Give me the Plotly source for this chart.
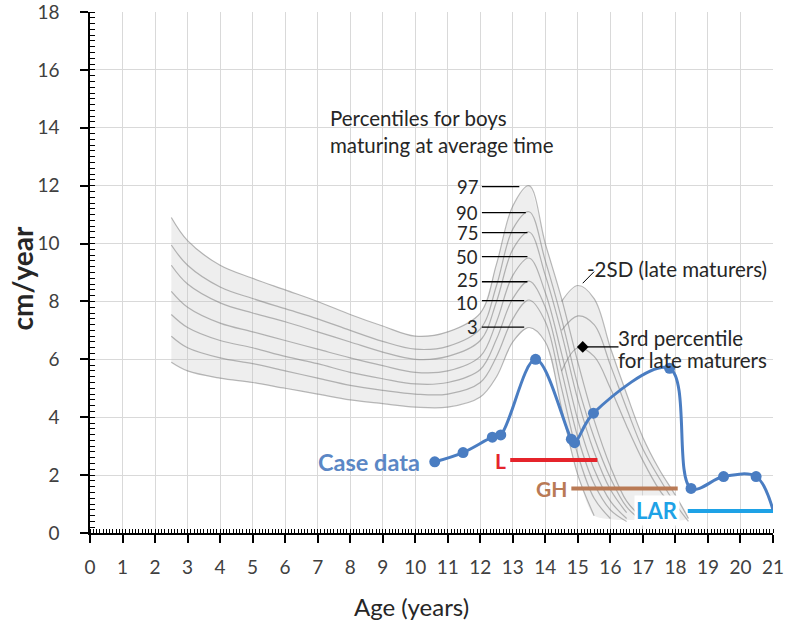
import plotly.graph_objects as go

# ---------------- data ----------------
# Case data (age in years, height velocity cm/year); last point has no marker
CASE_AGE = [10.6, 11.47, 12.37, 12.63, 13.7, 14.8, 14.9, 15.48, 17.82, 18.48, 19.48, 20.48, 21.0]
CASE_VEL = [2.46, 2.78, 3.31, 3.39, 6.0, 3.24, 3.12, 4.14, 5.69, 1.54, 1.95, 1.95, 0.8]
CASE_MARKED = [1, 1, 1, 1, 1, 1, 1, 1, 1, 1, 1, 1, 0]

# Treatment periods
TREAT_NAMES = ["L", "GH", "LAR"]
TREAT_START = [12.92, 14.8, 18.38]
TREAT_END = [15.6, 18.07, 21.0]
TREAT_LEVEL = [2.52, 1.54, 0.76]

# Reference percentile curves (boys maturing at average time)
AGES = [2.5, 3, 4, 5, 6, 7, 8, 9, 10, 11, 12, 12.5, 13, 13.5, 14, 14.5, 15, 15.5, 16, 16.5, 17]
P3 = [5.9, 5.6, 5.35, 5.2, 5.0, 4.8, 4.6, 4.47, 4.35, 4.35, 4.7, 5.4, 6.6, 7.1, 6.6, 4.3, 2.0, 0.6, None, None, None]
P10 = [6.8, 6.4, 6.05, 5.85, 5.6, 5.35, 5.1, 4.93, 4.8, 4.8, 5.2, 6.1, 7.4, 8.05, 7.3, 5.0, 2.7, 1.2, 0.5, None, None]
P25 = [7.55, 7.1, 6.65, 6.4, 6.1, 5.85, 5.55, 5.33, 5.15, 5.2, 5.65, 6.7, 8.1, 8.7, 7.8, 5.6, 3.3, 1.7, 0.8, 0.4, None]
P50 = [8.35, 7.8, 7.25, 6.95, 6.65, 6.35, 6.05, 5.78, 5.55, 5.6, 6.1, 7.3, 8.9, 9.5, 8.3, 6.2, 3.9, 2.2, 1.1, 0.5, None]
P75 = [9.25, 8.6, 7.95, 7.6, 7.3, 6.95, 6.6, 6.25, 6.0, 6.1, 6.65, 8.0, 9.8, 10.4, 8.9, 6.9, 4.6, 2.8, 1.5, 0.7, None]
P90 = [9.95, 9.25, 8.5, 8.1, 7.75, 7.4, 7.0, 6.62, 6.35, 6.45, 7.05, 8.55, 10.5, 11.1, 9.4, 7.4, 5.1, 3.3, 1.9, 0.9, 0.4]
P97 = [10.9, 10.1, 9.25, 8.8, 8.4, 8.0, 7.55, 7.15, 6.8, 6.95, 7.6, 9.3, 11.3, 12.0, 10.0, 8.1, 5.9, 3.9, 2.3, 1.1, 0.5]

# Late maturers
LATE_AGES = [14.5, 15.0, 15.5, 16.0, 16.5, 17.0, 17.5, 18.0, 18.4]
LATE_M2SD = [8.0, 8.55, 8.1, 6.4, 4.8, 3.3, 2.2, 1.3, 0.5]
LATE_MID = [7.0, 7.5, 7.2, 5.8, 4.3, 2.9, 1.9, 1.0, 0.4]
LATE_P3 = [5.6, 6.4, 6.1, 5.0, 3.7, 2.5, 1.5, 0.8, None]
LATE_P3_MARK = [15.15, 6.43]

# Percentile labels and their peak values
PCT_NAMES = ["97", "90", "75", "50", "25", "10", "3"]
PCT_PEAK = [11.97, 11.07, 10.38, 9.55, 8.68, 8.03, 7.11]

# ---------------- styles ----------------
FONT = "Lato"
BAND_FILL = "rgba(190,190,190,0.26)"
CURVE_COL = "rgba(115,115,115,0.5)"
CASE_COL = "#4a7dc2"
TREAT_COLORS = ["#e5242b", "#b97a55", "#1ea2e6"]
TEXT_COL = "#262626"

fig = go.Figure()

# Main percentile band (fill between 3rd and 97th)
top_x = [a for a, v in zip(AGES, P97) if v is not None]
top_y = [v for v in P97 if v is not None]
bot_x = [a for a, v in zip(AGES, P3) if v is not None]
bot_y = [v for v in P3 if v is not None]
fig.add_trace(go.Scatter(
    x=top_x + bot_x[::-1], y=top_y + bot_y[::-1],
    fill="toself", fillcolor=BAND_FILL, mode="lines",
    line=dict(width=0, shape="spline", smoothing=0.6), hoverinfo="skip"))

# Late maturers band
fig.add_trace(go.Scatter(
    x=LATE_AGES + AGES[15:][::-1], y=LATE_M2SD + P97[15:][::-1],
    fill="toself", fillcolor=BAND_FILL, mode="lines",
    line=dict(width=0, shape="spline", smoothing=0.6), hoverinfo="skip"))

for series in [P3, P10, P25, P50, P75, P90, P97]:
    fig.add_trace(go.Scatter(x=AGES, y=series, mode="lines",
                             line=dict(color=CURVE_COL, width=1.2, shape="spline", smoothing=1.0),
                             hoverinfo="skip"))
for series in [LATE_M2SD, LATE_MID, LATE_P3]:
    fig.add_trace(go.Scatter(x=LATE_AGES, y=series, mode="lines",
                             line=dict(color=CURVE_COL, width=1.2, shape="spline", smoothing=1.0),
                             hoverinfo="skip"))

# 3rd percentile late maturers marker
fig.add_trace(go.Scatter(x=[LATE_P3_MARK[0]], y=[LATE_P3_MARK[1]], mode="markers",
                         marker=dict(symbol="diamond", size=9, color="black"), hoverinfo="skip"))

# Treatment bars
for name, x0, x1, yv, col in zip(TREAT_NAMES, TREAT_START, TREAT_END, TREAT_LEVEL, TREAT_COLORS):
    fig.add_trace(go.Scatter(x=[x0, x1], y=[yv, yv], mode="lines",
                             line=dict(color=col, width=4), hoverinfo="skip"))

# Case data
fig.add_trace(go.Scatter(
    x=CASE_AGE, y=CASE_VEL, mode="lines+markers",
    line=dict(color=CASE_COL, width=3, shape="spline", smoothing=1.0),
    marker=dict(color=CASE_COL, opacity=1, line=dict(width=0),
                size=[11 if m else 0 for m in CASE_MARKED]),
    hoverinfo="skip"))

annotations = []
shapes = []

# Percentile labels with pointer lines
line_ends = [13.2, 13.4, 13.45, 13.45, 13.45, 13.35, 13.35]
label_nudge = [0, 0, 0, 0, 0.07, -0.07, 0]
for name, yv, xe, dy in zip(PCT_NAMES, PCT_PEAK, line_ends, label_nudge):
    annotations.append(dict(x=12.0, y=yv + dy, text=name, showarrow=False, xanchor="right",
                            yanchor="middle", font=dict(family=FONT, size=18.5, color=TEXT_COL)))
    shapes.append(dict(type="line", x0=12.05, x1=xe, y0=yv, y1=yv,
                       line=dict(color="black", width=1.3)))


def txt(x, y, s, size, anchor="left", color=TEXT_COL, **kw):
    annotations.append(dict(x=x, y=y, text=s, showarrow=False, xanchor=anchor, yanchor="middle",
                            font=dict(family=FONT, size=size, color=color), **kw))


txt(7.31, 14.34, "Percentiles for boys", 20.5)
txt(7.31, 13.41, "maturing at average time", 20.5)
txt(15.21, 9.12, "-2SD (late maturers)", 20.5)
shapes.append(dict(type="line", x0=15.15, y0=8.63, x1=15.5, y1=9.03,
                   line=dict(color="black", width=1)))
txt(16.16, 6.73, "3rd percentile", 20.5)
txt(16.16, 5.98, "for late maturers", 20.5)
shapes.append(dict(type="line", x0=15.3, y0=6.43, x1=16.25, y1=6.43,
                   line=dict(color="black", width=1.3)))

txt(10.2, 2.46, "<b>Case data</b>", 23.5, anchor="right", color="#5b87c5")
label_right = [12.84, 14.72, 18.13]
label_y = [2.5, 1.54, 0.79]
label_size = [21, 21, 22]
for name, xr, yv, col, sz in zip(TREAT_NAMES, label_right, label_y, TREAT_COLORS, label_size):
    txt(xr, yv, "<b>%s</b>" % name, sz, anchor="right", color=col,
        bgcolor="white" if name == "LAR" else None, borderpad=1)

# Axis titles
annotations.append(dict(xref="paper", yref="paper", x=0.47, y=0, yshift=-57,
                        text="Age (years)", showarrow=False, xanchor="center", yanchor="top",
                        font=dict(family=FONT, size=24, color=TEXT_COL)))
annotations.append(dict(xref="paper", yref="paper", x=0, xshift=-69, y=0.5, yshift=-6,
                        text="<b>cm/year</b>", showarrow=False, textangle=-90,
                        xanchor="center", yanchor="middle",
                        font=dict(family=FONT, size=28, color=TEXT_COL)))

axis_common = dict(showgrid=True, gridcolor="#d9d9d9", gridwidth=1, zeroline=False,
                   showline=True, linecolor="black", linewidth=1.5, automargin=False,
                   ticklabeloverflow="allow",
                   ticks="outside", ticklen=8, tickwidth=1.5, tickcolor="black",
                   tickfont=dict(family=FONT, size=19, color="#404040"))

fig.update_layout(
    width=787, height=625,
    margin=dict(l=90, r=14, t=12, b=92),
    paper_bgcolor="white", plot_bgcolor="white",
    showlegend=False,
    font=dict(family=FONT, color="#404040"),
    xaxis=dict(range=[0, 21], tick0=0, dtick=1, ticklabelstandoff=8,
               minor=dict(dtick=0.1, ticks="inside", ticklen=4, tickwidth=1, tickcolor="black", showgrid=False),
               **axis_common),
    yaxis=dict(range=[0, 18], tick0=0, dtick=2, ticklabelstandoff=17,
               minor=dict(dtick=0.2, ticks="inside", ticklen=5, tickwidth=1, tickcolor="black", showgrid=False),
               **axis_common),
    annotations=annotations,
    shapes=shapes,
)

fig.write_html("out.html", config={"displayModeBar": False},
               post_script="document.body.style.margin='0';document.body.style.overflow='hidden';")
